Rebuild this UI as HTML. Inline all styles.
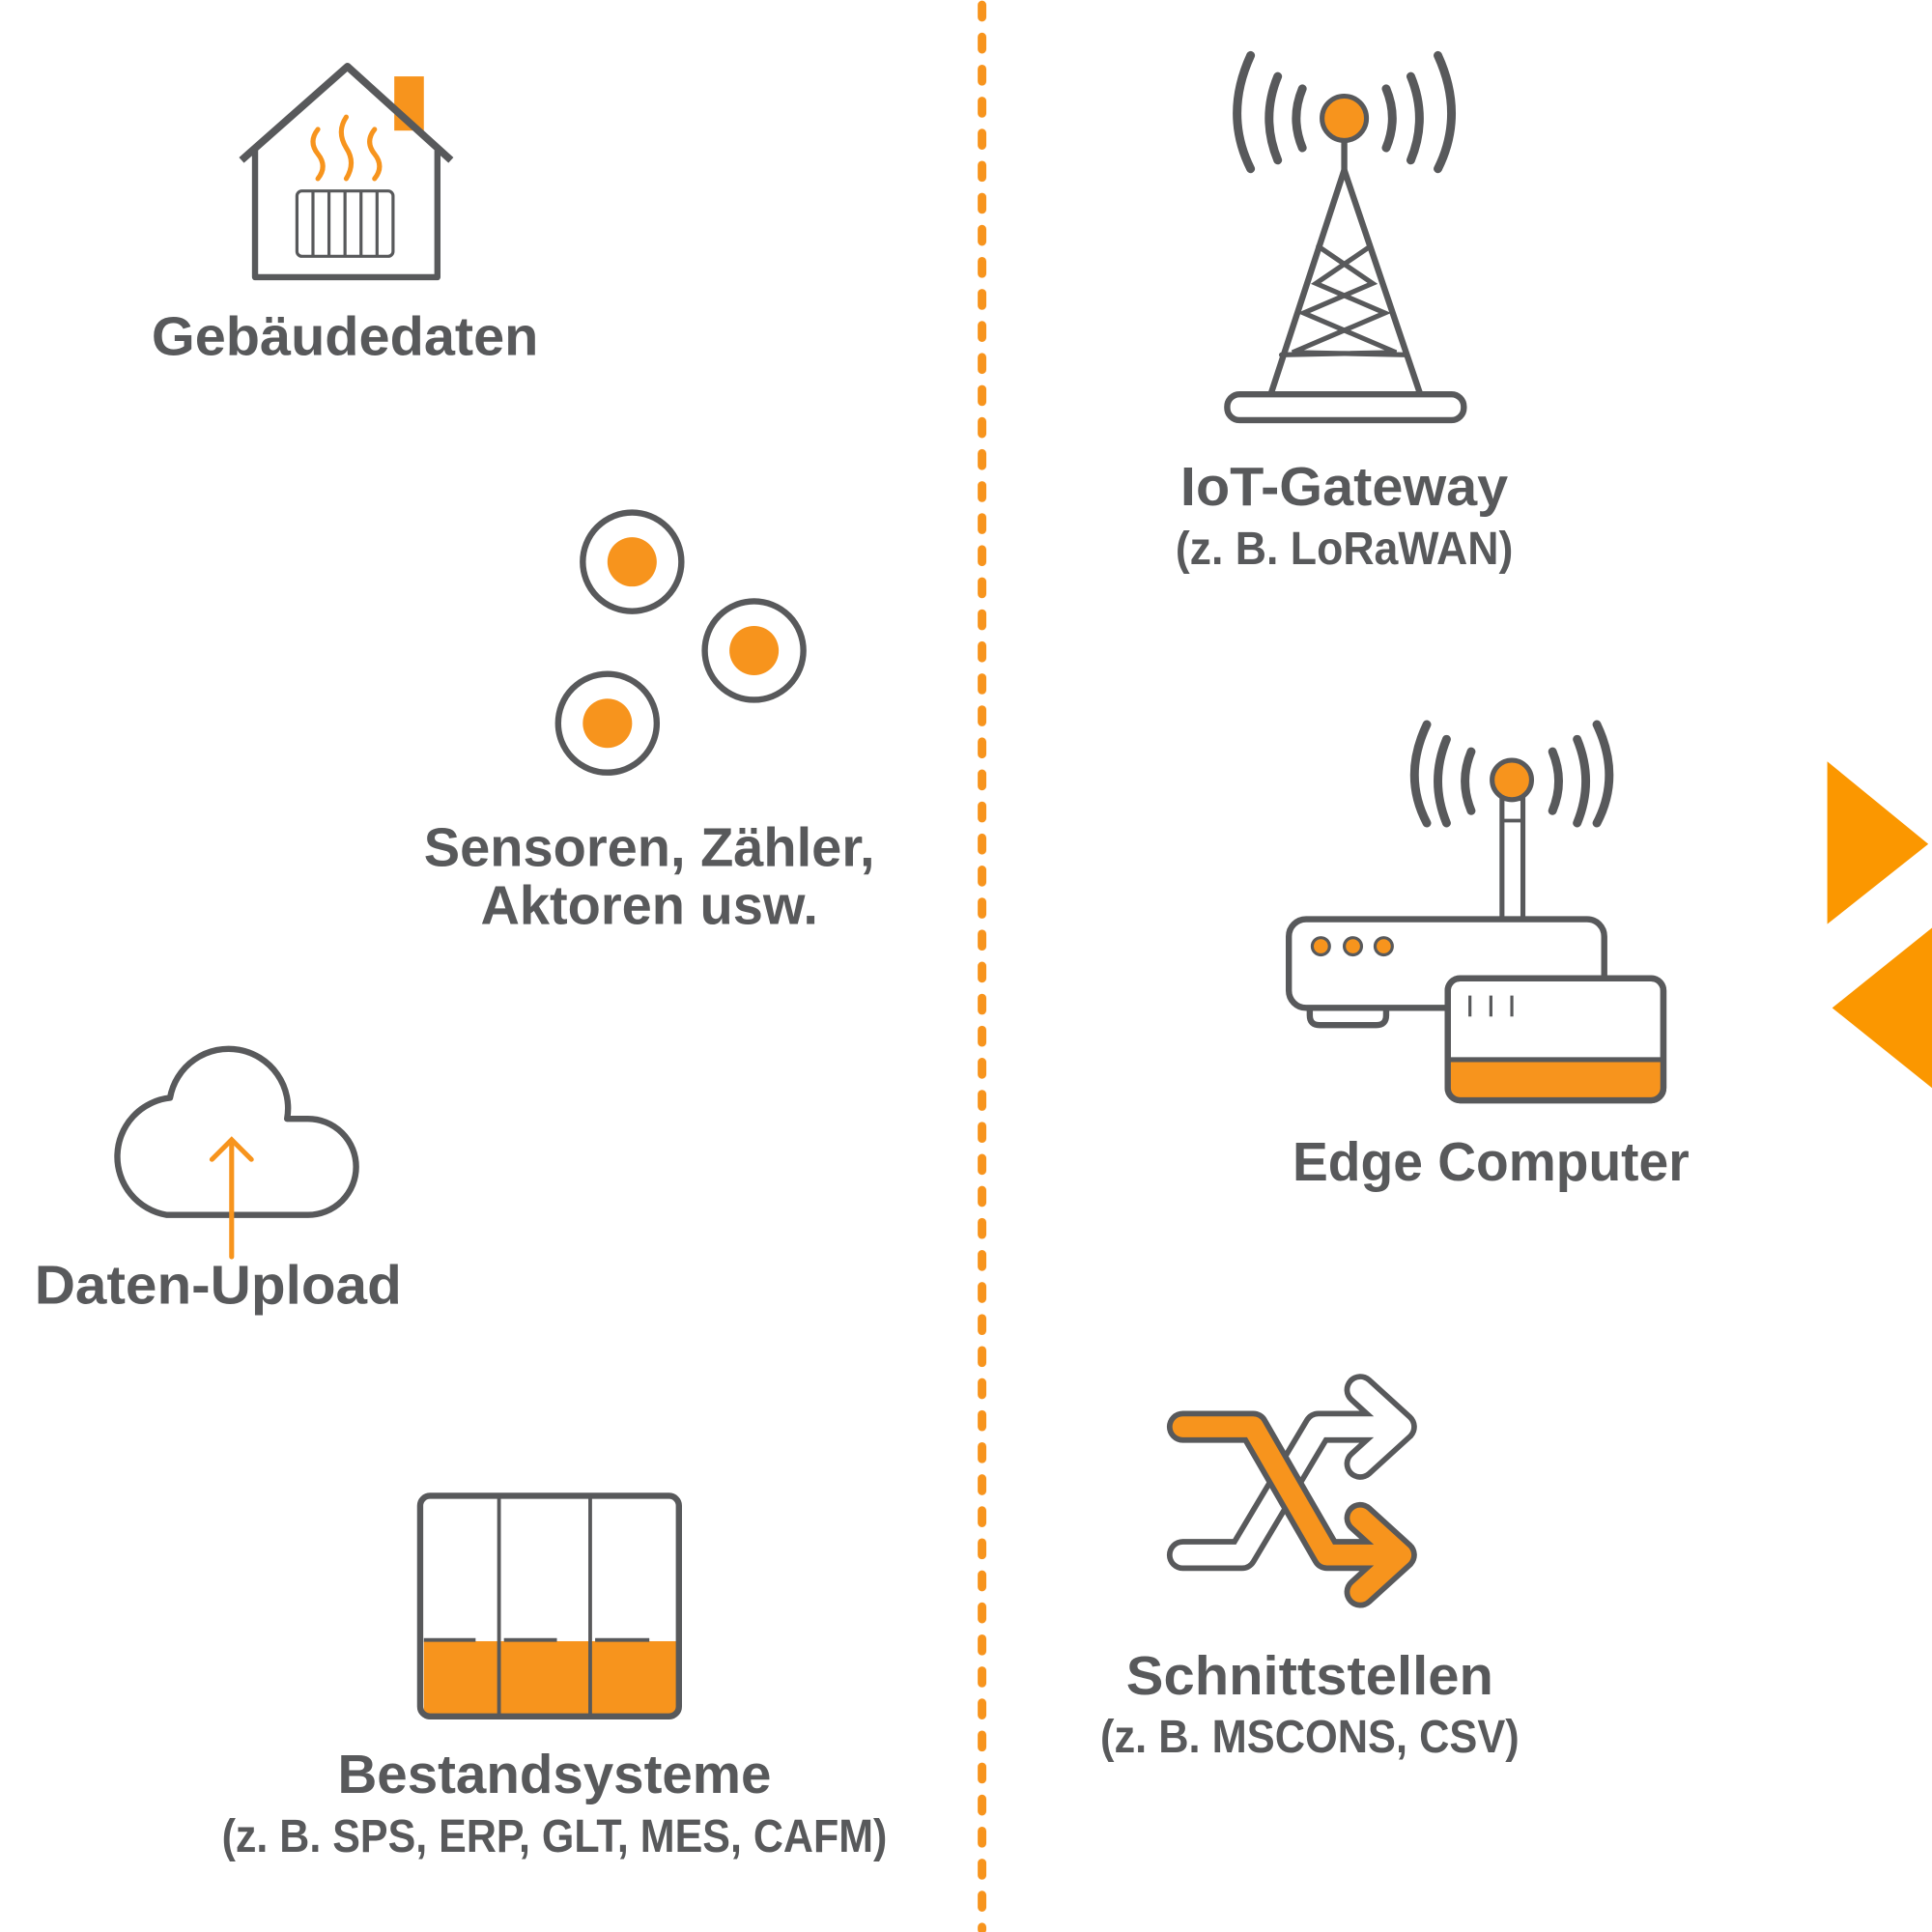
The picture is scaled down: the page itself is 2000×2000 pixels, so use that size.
<!DOCTYPE html>
<html><head><meta charset="utf-8"><style>html,body{margin:0;padding:0;background:#fff}svg{display:block}</style></head>
<body>
<svg width="2000" height="2000" viewBox="0 0 1568 1568" xmlns="http://www.w3.org/2000/svg">
<rect width="1568" height="1568" fill="#fff"/>
<g font-family="Liberation Sans, sans-serif" font-weight="bold" fill="#58595b" text-anchor="middle">
<text x="280" y="288" font-size="44" textLength="314" lengthAdjust="spacingAndGlyphs">Gebäudedaten</text>
<text x="527" y="703" font-size="44" textLength="366" lengthAdjust="spacingAndGlyphs">Sensoren, Zähler,</text>
<text x="527" y="750" font-size="44" textLength="274" lengthAdjust="spacingAndGlyphs">Aktoren usw.</text>
<text x="177" y="1058" font-size="44" textLength="298" lengthAdjust="spacingAndGlyphs">Daten-Upload</text>
<text x="450" y="1455" font-size="44" textLength="352" lengthAdjust="spacingAndGlyphs">Bestandsysteme</text>
<text x="450" y="1503" font-size="38" textLength="540" lengthAdjust="spacingAndGlyphs">(z. B. SPS, ERP, GLT, MES, CAFM)</text>
<text x="1091" y="410" font-size="44" textLength="266" lengthAdjust="spacingAndGlyphs">IoT-Gateway</text>
<text x="1091" y="458" font-size="38" textLength="274" lengthAdjust="spacingAndGlyphs">(z. B. LoRaWAN)</text>
<text x="1210" y="958" font-size="44" textLength="322" lengthAdjust="spacingAndGlyphs">Edge Computer</text>
<text x="1063" y="1375" font-size="44" textLength="298" lengthAdjust="spacingAndGlyphs">Schnittstellen</text>
<text x="1063" y="1422" font-size="38" textLength="340" lengthAdjust="spacingAndGlyphs">(z. B. MSCONS, CSV)</text>
</g>
<line x1="797" y1="4" x2="797" y2="1566" stroke="#f7941d" stroke-width="7" stroke-linecap="round" stroke-dasharray="10 16"/>
<!-- house -->
<g fill="none" stroke="#58595b" stroke-width="5" stroke-linejoin="round">
<rect x="320" y="62" width="24" height="44" fill="#f7941d" stroke="none"/>
<polyline points="196,130 282,54 366,130" stroke-width="6"/>
<polyline points="207,122 207,225 355,225 355,122"/>
<g stroke-width="2.5"><rect x="241" y="155" width="78" height="53" rx="4" fill="#fff"/>
<line x1="254" y1="155" x2="254" y2="208"/><line x1="267" y1="155" x2="267" y2="208"/><line x1="280" y1="155" x2="280" y2="208"/><line x1="293" y1="155" x2="293" y2="208"/><line x1="306" y1="155" x2="306" y2="208"/></g>
<g stroke="#f7941d" stroke-width="4" stroke-linecap="round">
<path d="M258,105 q-8,10 0,20 q8,10 0,20"/><path d="M281,95 q-8,12 0,25 q8,12 0,25"/><path d="M304,105 q-8,10 0,20 q8,10 0,20"/></g>
</g>
<!-- sensors -->
<g stroke="#58595b" stroke-width="5" fill="#fff">
<circle cx="513" cy="456" r="40"/><circle cx="612" cy="528" r="40"/><circle cx="493" cy="587" r="40"/></g>
<g fill="#f7941d"><circle cx="513" cy="456" r="20"/><circle cx="612" cy="528" r="20"/><circle cx="493" cy="587" r="20"/></g>
<!-- cloud -->
<path d="M135,986 A48,48 0 0 1 138,891 A48,48 0 0 1 233,908 L250,908 A39,39 0 0 1 250,986 Z" fill="none" stroke="#58595b" stroke-width="5" stroke-linejoin="round"/>
<g stroke="#f7941d" stroke-width="4" fill="none" stroke-linecap="round"><line x1="188" y1="1020" x2="188" y2="926"/><polyline points="172,941 188,925 204,941"/></g>
<!-- bestand -->
<rect x="344" y="1332" width="205" height="60" fill="#f7941d"/>
<g stroke="#58595b" fill="none" stroke-width="5"><rect x="341" y="1214" width="210" height="179" rx="8"/></g>
<g stroke="#58595b" stroke-width="3"><line x1="405" y1="1214" x2="405" y2="1393"/><line x1="479" y1="1214" x2="479" y2="1393"/>
<line x1="344" y1="1331" x2="386" y2="1331"/><line x1="409" y1="1331" x2="452" y2="1331"/><line x1="483" y1="1331" x2="527" y2="1331"/></g>
<!-- tower -->
<g fill="none" stroke="#58595b" stroke-width="5" stroke-linecap="round">
<line x1="1091" y1="112" x2="1091" y2="138"/>
<polyline points="1032,318 1091,138 1152,318" stroke-linejoin="round"/>
<polyline points="1070,200 1114,230 1058,254 1133,286 1040,288" stroke-width="4"/>
<polyline points="1112,200 1068,230 1124,254 1049,286 1142,288" stroke-width="4"/>
<rect x="996" y="320" width="192" height="21" rx="10"/>
<g stroke-width="7">
<path d="M1057,72 q-10,24 0,48"/><path d="M1037,62 q-14,34 0,68"/><path d="M1015,45 q-22,48 0,92"/>
<path d="M1125,72 q10,24 0,48"/><path d="M1145,62 q14,34 0,68"/><path d="M1167,45 q22,48 0,92"/></g>
</g>
<circle cx="1091" cy="96" r="18" fill="#f7941d" stroke="#58595b" stroke-width="4"/>
<!-- edge -->
<g fill="none" stroke="#58595b" stroke-width="5" stroke-linecap="round">
<rect x="1219" y="648" width="17" height="100" fill="#fff" stroke-width="4"/>
<line x1="1219" y1="666" x2="1236" y2="666" stroke-width="3"/>
<g stroke-width="7">
<path d="M1194,610 q-10,24 0,48"/><path d="M1174,600 q-14,34 0,68"/><path d="M1158,588 q-20,42 0,80"/>
<path d="M1260,610 q10,24 0,48"/><path d="M1280,600 q14,34 0,68"/><path d="M1296,588 q20,42 0,80"/></g>
<path d="M1063,818 v6 q0,8 8,8 h46 q8,0 8,-8 v-6" fill="#fff"/>
<rect x="1046" y="746" width="256" height="72" rx="14" fill="#fff"/>
<rect x="1175" y="794" width="175" height="99" rx="10" fill="#fff"/>
</g>
<path d="M1177,862 h171 v21 q0,8 -8,8 h-155 q-8,0 -8,-8 z" fill="#f7941d"/>
<line x1="1175" y1="860" x2="1350" y2="860" stroke="#58595b" stroke-width="4"/>
<rect x="1175" y="794" width="175" height="99" rx="10" fill="none" stroke="#58595b" stroke-width="5"/>
<g stroke="#58595b" stroke-width="2.5"><line x1="1193" y1="808" x2="1193" y2="825"/><line x1="1210" y1="808" x2="1210" y2="825"/><line x1="1227" y1="808" x2="1227" y2="825"/></g>
<g fill="#f7941d" stroke="#58595b" stroke-width="2.5"><circle cx="1072" cy="768" r="7"/><circle cx="1098" cy="768" r="7"/><circle cx="1123" cy="768" r="7"/></g>
<circle cx="1227" cy="633" r="16" fill="#f7941d" stroke="#58595b" stroke-width="4"/>
<!-- shuffle -->
<g fill="none" stroke-linecap="round" stroke-linejoin="round">
<path d="M960,1262 H1008 L1070,1158 H1120 M1104,1128 L1137,1158 L1104,1188" stroke="#58595b" stroke-width="26"/>
<path d="M960,1262 H1008 L1070,1158 H1120 M1104,1128 L1137,1158 L1104,1188" stroke="#fff" stroke-width="17"/>
<path d="M960,1158 H1017 L1077,1262 H1120 M1104,1232 L1137,1262 L1104,1292" stroke="#58595b" stroke-width="26"/>
<path d="M960,1158 H1017 L1077,1262 H1120 M1104,1232 L1137,1262 L1104,1292" stroke="#f7941d" stroke-width="17"/>
</g>
<!-- triangles -->
<polygon points="1483,618 1565,685 1483,750" fill="#fb9700"/>
<polygon points="1568,753 1487,818 1568,883" fill="#fb9700"/>
</svg>
</body></html>
